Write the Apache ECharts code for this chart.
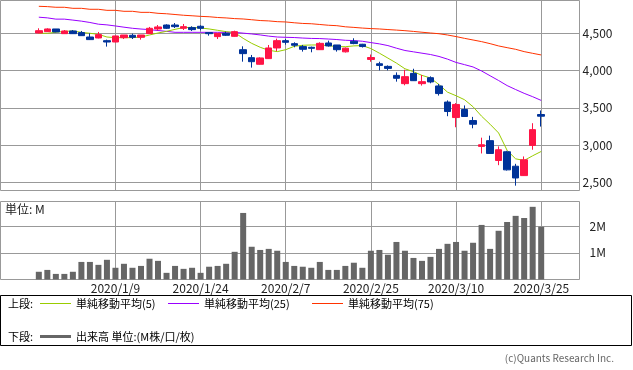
<!DOCTYPE html>
<html><head><meta charset="utf-8">
<script src="https://cdn.jsdelivr.net/npm/echarts@6/dist/echarts.min.js"></script>
<style>html,body{margin:0;padding:0;background:#fff}#c{width:633px;height:370px}</style>
</head><body><div id="c"></div>
<script>
// ---- data ----
const dates = ['2019/12/23','2019/12/24','2019/12/25','2019/12/26','2019/12/27','2019/12/30',
'2020/1/6','2020/1/7','2020/1/8','2020/1/9','2020/1/10','2020/1/14','2020/1/15','2020/1/16','2020/1/17',
'2020/1/20','2020/1/21','2020/1/22','2020/1/23','2020/1/24','2020/1/27','2020/1/28','2020/1/29','2020/1/30',
'2020/1/31','2020/2/3','2020/2/4','2020/2/5','2020/2/6','2020/2/7','2020/2/10','2020/2/12','2020/2/13',
'2020/2/14','2020/2/17','2020/2/18','2020/2/19','2020/2/20','2020/2/21','2020/2/25','2020/2/26','2020/2/27',
'2020/2/28','2020/3/2','2020/3/3','2020/3/4','2020/3/5','2020/3/6','2020/3/9','2020/3/10','2020/3/11',
'2020/3/12','2020/3/13','2020/3/16','2020/3/17','2020/3/18','2020/3/19','2020/3/23','2020/3/24','2020/3/25'];
const opens  = [4504,4522,4558,4495,4531,4509,4450,4437,4401,4383,4441,4473,4446,4495,4558,4611,4611,4567,4576,4594,
4509,4455,4500,4459,4280,4173,4084,4160,4303,4401,4361,4321,4312,4280,4370,4343,4251,4393,4353,4149,
4091,4056,3935,3824,3962,3824,3904,3793,3577,3369,3477,3329,2982,3059,2793,2910,2716,2590,2995,3410];
const closes = [4535,4558,4518,4531,4495,4468,4415,4482,4383,4464,4477,4446,4477,4567,4585,4567,4589,4589,4549,4567,
4495,4500,4473,4522,4227,4119,4169,4303,4401,4379,4339,4285,4298,4365,4330,4280,4300,4362,4322,4175,
4069,4029,3896,3918,3864,3851,3847,3691,3450,3545,3383,3279,3004,2887,2937,2667,2558,2802,3207,3387];
const lows   = [4500,4518,4513,4491,4491,4464,4410,4432,4321,4379,4423,4423,4415,4491,4540,4558,4571,4544,4531,4540,
4468,4423,4464,4455,4119,4039,4079,4155,4262,4347,4312,4254,4245,4276,4321,4254,4242,4353,4309,4118,
4002,4002,3851,3802,3860,3798,3829,3664,3387,3239,3378,3225,2887,2883,2730,2658,2455,2586,2937,3248];
const highs  = [4567,4567,4558,4544,4544,4531,4500,4518,4415,4468,4477,4495,4477,4585,4611,4620,4638,4625,4594,4607,
4509,4500,4522,4535,4325,4209,4178,4343,4428,4423,4379,4343,4321,4379,4401,4343,4309,4433,4358,4215,
4118,4069,3975,4011,4024,3940,3922,3820,3599,3563,3532,3378,3099,3126,2982,2923,2748,2847,3293,3464];
const ma5  = [4500,4500,4513,4526,4531,4513,4500,4486,4450,4441,4441,4441,4450,4477,4504,4526,4553,4576,4580,4571,
4558,4540,4522,4509,4432,4365,4312,4272,4254,4280,4325,4339,4343,4343,4334,4321,4320,4331,4335,4295,
4233,4167,4100,4024,3984,3935,3900,3811,3710,3662,3608,3514,3387,3279,3162,2928,2815,2793,2856,2914];
const ma25 = [4716,4707,4690,4690,4677,4663,4645,4622,4613,4598,4582,4567,4557,4549,4537,4526,4513,4513,4513,4513,
4513,4513,4513,4513,4502,4491,4478,4462,4450,4446,4443,4436,4431,4429,4423,4416,4406,4402,4393,4375,
4358,4335,4300,4269,4251,4233,4215,4189,4153,4109,4079,4048,3994,3930,3866,3798,3745,3694,3649,3599];
const ma75 = [4862,4858,4849,4849,4835,4835,4822,4822,4808,4808,4795,4795,4781,4781,4768,4762,4752,4742,4735,4727,
4722,4712,4706,4697,4692,4682,4671,4666,4656,4652,4641,4632,4628,4618,4608,4602,4587,4579,4570,4563,
4558,4550,4543,4535,4525,4514,4504,4494,4477,4456,4432,4410,4388,4361,4330,4307,4285,4254,4231,4209];
const volume = [0.29,0.36,0.21,0.21,0.29,0.66,0.66,0.55,0.74,0.44,0.59,0.44,0.51,0.78,0.70,0.25,0.51,0.40,0.44,0.25,
0.48,0.51,0.59,1.04,2.50,1.23,1.11,1.15,1.08,0.66,0.51,0.48,0.44,0.66,0.36,0.36,0.51,0.63,0.44,1.08,
1.11,0.93,1.41,1.08,0.81,0.70,0.85,1.15,1.34,1.41,1.08,1.38,2.05,1.15,1.83,2.16,2.39,2.31,2.73,1.98];
const dateLabels = ['2020/1/9','2020/1/24','2020/2/7','2020/2/25','2020/3/10','2020/3/25'];
const priceTicks = [2500,3000,3500,4000,4500];
const volumeTicks = [1,2];

// ---- build ----
const PAD = 4;
const pre = Array.from({length: PAD}, (_, i) => 'pre' + i);
const post = Array.from({length: PAD}, (_, i) => 'post' + i);
const cats = pre.concat(dates, post);
const padded = arr => Array(PAD).fill('-').concat(arr, Array(PAD).fill('-'));
const kData = padded(dates.map((d, i) => [opens[i], closes[i], lows[i], highs[i]]));

const FONT = '"Noto Sans CJK JP", "Noto Sans", sans-serif';
const GRID = '#999999';
const RED = '#FF1446', BLUE = '#003399';

const vLines = dateLabels.map(d => ({xAxis: d}));
const mlBase = {silent: true, symbol: ['none','none'], z: 1, animation: false,
  label: {show: false}, lineStyle: {color: GRID, type: 'solid', width: 1}, emphasis: {disabled: true}};

const chart = echarts.init(document.getElementById('c'), null, {renderer: 'canvas'});
chart.setOption({
  animation: false,
  backgroundColor: '#fff',
  textStyle: {fontFamily: FONT},
  grid: [
    {left: 0.5, top: 0.5, width: 579, height: 190, show: true, borderColor: GRID, borderWidth: 1, containLabel: false},
    {left: 0.5, top: 201.5, width: 579, height: 78, show: true, borderColor: GRID, borderWidth: 1, containLabel: false}
  ],
  xAxis: [
    {type: 'category', gridIndex: 0, data: cats, boundaryGap: true,
     axisLine: {show: false}, axisTick: {show: false}, axisLabel: {show: false}, splitLine: {show: false}},
    {type: 'category', gridIndex: 1, data: cats, boundaryGap: true,
     axisLine: {show: false}, axisTick: {show: false}, splitLine: {show: false},
     axisLabel: {show: true, interval: (i, v) => dateLabels.indexOf(v) >= 0, color: '#222', fontSize: 12,
       margin: 3, fontFamily: FONT}}
  ],
  yAxis: [
    {type: 'value', gridIndex: 0, position: 'right', min: 2390, max: 4940, scale: true,
     axisLine: {show: false}, axisTick: {show: false, customValues: priceTicks}, splitLine: {show: false},
     axisLabel: {customValues: priceTicks, color: '#222', fontSize: 12, margin: 3, fontFamily: FONT,
       formatter: v => Number(v).toLocaleString('en-US')}},
    {type: 'value', gridIndex: 1, position: 'right', min: 0, max: 2.93,
     axisLine: {show: false}, axisTick: {show: false, customValues: volumeTicks}, splitLine: {show: false},
     axisLabel: {customValues: volumeTicks, color: '#222', fontSize: 12, margin: 10, fontFamily: FONT,
       formatter: v => v + 'M'}}
  ],
  series: [
    {name: 'grid-top', type: 'line', xAxisIndex: 0, yAxisIndex: 0, data: [], z: 1,
     markLine: Object.assign({}, mlBase, {data: priceTicks.map(v => ({yAxis: v})).concat(vLines)})},
    {name: 'grid-bottom', type: 'line', xAxisIndex: 1, yAxisIndex: 1, data: [], z: 1,
     markLine: Object.assign({}, mlBase, {data: volumeTicks.map(v => ({yAxis: v})).concat(vLines)})},
    {name: '単純移動平均(75)', type: 'line', xAxisIndex: 0, yAxisIndex: 0, data: padded(ma75), symbol: 'none',
     lineStyle: {color: '#FF3300', width: 1}, z: 3},
    {name: '単純移動平均(25)', type: 'line', xAxisIndex: 0, yAxisIndex: 0, data: padded(ma25), symbol: 'none',
     lineStyle: {color: '#9900FF', width: 1}, z: 3},
    {name: '単純移動平均(5)', type: 'line', xAxisIndex: 0, yAxisIndex: 0, data: padded(ma5), symbol: 'none',
     lineStyle: {color: '#99CC00', width: 1}, z: 3},
    {name: '株価', type: 'candlestick', xAxisIndex: 0, yAxisIndex: 0, data: kData, barWidth: 7, z: 5,
     itemStyle: {color: RED, color0: BLUE, borderColor: RED, borderColor0: BLUE, borderWidth: 1}},
    {name: '出来高', type: 'bar', xAxisIndex: 1, yAxisIndex: 1, data: padded(volume), barWidth: 6, z: 5,
     itemStyle: {color: '#666666'}}
  ],
  graphic: [
    {type: 'text', left: 5, top: 203, style: {text: '単位: M', font: '12px ' + FONT, fill: '#222'}},
    {type: 'rect', shape: {x: 0.5, y: 295.5, width: 631, height: 50}, style: {fill: 'none', stroke: '#000', lineWidth: 1}},
    {type: 'text', x: 8, y: 303.5, style: {text: '上段:', font: '11px ' + FONT, fill: '#000', verticalAlign: 'middle'}},
    {type: 'line', shape: {x1: 40, y1: 303.5, x2: 71, y2: 303.5}, style: {stroke: '#99CC00', lineWidth: 1}},
    {type: 'text', x: 76, y: 303.5, style: {text: '単純移動平均(5)', font: '11px ' + FONT, fill: '#000', verticalAlign: 'middle'}},
    {type: 'line', shape: {x1: 168, y1: 303.5, x2: 199, y2: 303.5}, style: {stroke: '#9900FF', lineWidth: 1}},
    {type: 'text', x: 204, y: 303.5, style: {text: '単純移動平均(25)', font: '11px ' + FONT, fill: '#000', verticalAlign: 'middle'}},
    {type: 'line', shape: {x1: 312, y1: 303.5, x2: 343, y2: 303.5}, style: {stroke: '#FF3300', lineWidth: 1}},
    {type: 'text', x: 348, y: 303.5, style: {text: '単純移動平均(75)', font: '11px ' + FONT, fill: '#000', verticalAlign: 'middle'}},
    {type: 'text', x: 8, y: 336.5, style: {text: '下段:', font: '11px ' + FONT, fill: '#000', verticalAlign: 'middle'}},
    {type: 'line', shape: {x1: 40, y1: 336.5, x2: 71, y2: 336.5}, style: {stroke: '#666666', lineWidth: 3}},
    {type: 'text', x: 76, y: 336.5, style: {text: '出来高 単位:(M株/口/枚)', font: '11px ' + FONT, fill: '#000', verticalAlign: 'middle'}},
    {type: 'text', x: 614, y: 358, style: {text: '(c)Quants Research Inc.', font: '10px ' + FONT, fill: '#666', align: 'right', verticalAlign: 'middle'}}
  ]
});
</script></body></html>
